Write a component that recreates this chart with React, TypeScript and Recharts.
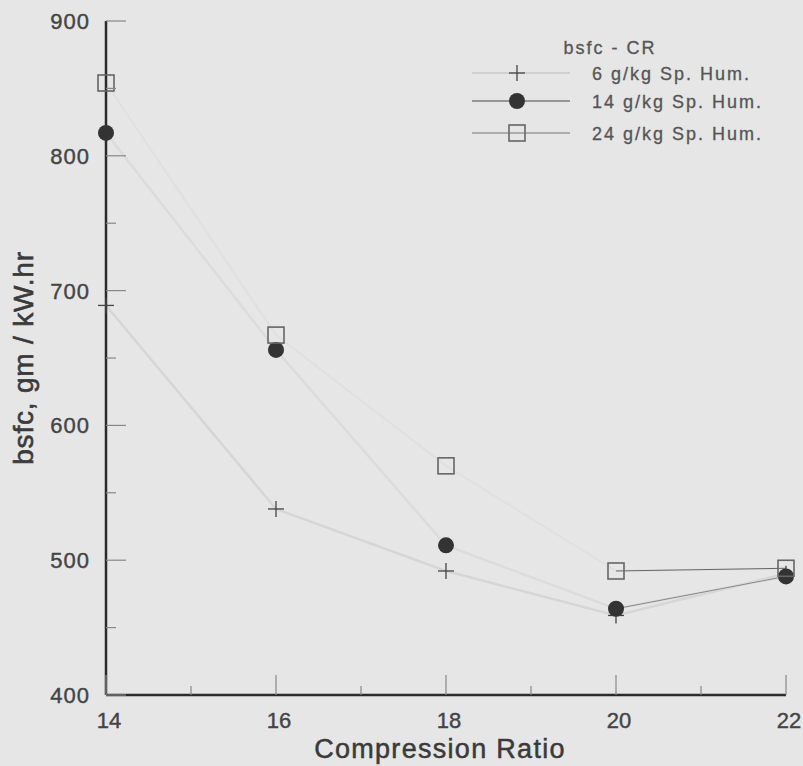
import React from "react"
import { LineChart, Line, XAxis, YAxis, Legend, Label } from "recharts"

// compression ratio (x) and bsfc readings per specific humidity
const compressionRatio = [14, 16, 18, 20, 22]
const bsfcHum6 = [689, 538, 492, 459, 490]
const bsfcHum14 = [817, 656, 511, 464, 488]
const bsfcHum24 = [854, 667, 570, 492, 494]

const xTicks = [14, 15, 16, 17, 18, 19, 20, 21, 22]
const yTicks = [400, 450, 500, 550, 600, 650, 700, 750, 800, 850, 900]

const seriesNames = ["6 g/kg Sp. Hum.", "14 g/kg Sp. Hum.", "24 g/kg Sp. Hum."]

// last segment (20 -> 22) is drawn darker in the original
const data = compressionRatio.map((cr, i) => ({
    cr,
    h6: bsfcHum6[i],
    h14: bsfcHum14[i],
    h24: bsfcHum24[i],
    h14tail: cr >= 20 ? bsfcHum14[i] : null,
    h24tail: cr >= 20 ? bsfcHum24[i] : null,
}))

const FONT = "'Liberation Sans', Arial, sans-serif"
const TEXT = "#444"

const plusMark = (cx: number, cy: number, key?: string) => (
    <g key={key}>
        <line x1={cx - 8} x2={cx + 8} y1={cy} y2={cy} stroke="#444" strokeWidth={1.3} />
        <line x1={cx} x2={cx} y1={cy - 8} y2={cy + 8} stroke="#444" strokeWidth={1.3} />
    </g>
)
const circleMark = (cx: number, cy: number, key?: string) => (
    <circle key={key} cx={cx} cy={cy} r={8} fill="#333" />
)
const squareMark = (cx: number, cy: number, key?: string) => (
    <rect key={key} x={cx - 8} y={cy - 8} width={16} height={16} fill="none" stroke="#666" strokeWidth={1.6} />
)

const YTick = (props: any) => {
    const { x, y, payload } = props
    const major = payload.value % 100 === 0
    return (
        <g>
            <line x1={x} x2={x + (major ? 20 : 10)} y1={y} y2={y} stroke="#888" strokeWidth={1.2} />
            {major && (
                <text x={x - 16} y={y + 8} textAnchor="end" fontSize={22} letterSpacing={1} fill={TEXT} stroke={TEXT} strokeWidth={0.4} fontFamily={FONT}>
                    {payload.value}
                </text>
            )}
        </g>
    )
}

const XTick = (props: any) => {
    const { x, y, payload } = props
    const major = payload.value % 2 === 0
    return (
        <g>
            <line x1={x} x2={x} y1={y} y2={y - (major ? 20 : 9)} stroke="#888" strokeWidth={1.2} />
            {major && (
                <text x={x + 3} y={y + 33} textAnchor="middle" fontSize={22} fill={TEXT} stroke={TEXT} strokeWidth={0.4} fontFamily={FONT}>
                    {payload.value}
                </text>
            )}
        </g>
    )
}

const LegendBox = () => {
    const rows = [
        { y: 43, mark: plusMark, line: "#bbb" },
        { y: 71, mark: circleMark, line: "#444" },
        { y: 103, mark: squareMark, line: "#777" },
    ]
    return (
        <svg width={330} height={120}>
            <text x={150} y={24} textAnchor="middle" fontSize={18} letterSpacing={2} fill="#555" stroke="#555" strokeWidth={0.3} fontFamily={FONT}>
                bsfc - CR
            </text>
            {rows.map((r, i) => (
                <g key={i}>
                    <line x1={12} x2={110} y1={r.y} y2={r.y} stroke={r.line} strokeWidth={1} />
                    {r.mark(57, r.y)}
                    <text x={132} y={r.y + 7} fontSize={18} letterSpacing={2} fill="#555" stroke="#555" strokeWidth={0.3} fontFamily={FONT}>
                        {seriesNames[i]}
                    </text>
                </g>
            ))}
        </svg>
    )
}

export default function App() {
    return (
        <div style={{ position: "absolute", left: 0, top: 0, width: 803, height: 766, background: "#e6e6e6", fontFamily: FONT }}>
            <LineChart width={803} height={766} data={data} margin={{ top: 21, right: 17, bottom: 21, left: 0 }}>
                <XAxis
                    dataKey="cr"
                    type="number"
                    domain={[14, 22]}
                    ticks={xTicks}
                    interval={0}
                    height={50}
                    tickSize={0}
                    tickMargin={0}
                    tickLine={false}
                    tick={<XTick />}
                    axisLine={{ stroke: "#2b2b2b", strokeWidth: 2.5 }}
                >
                    <Label
                        content={(p: any) => {
                            const vb = p.viewBox
                            return (
                                <text x={vb.x + vb.width / 2 - 6} y={vb.y + 63} textAnchor="middle" fontSize={27} letterSpacing={1.3} fill="#3a3a3a" stroke="#3a3a3a" strokeWidth={0.5} fontFamily={FONT}>
                                    Compression Ratio
                                </text>
                            )
                        }}
                    />
                </XAxis>
                <XAxis xAxisId="top" orientation="top" type="number" domain={[14, 22]} height={0} tick={false} tickLine={false} axisLine={{ stroke: "#333", strokeWidth: 2 }} />
                <YAxis
                    type="number"
                    domain={[400, 900]}
                    ticks={yTicks}
                    interval={0}
                    width={106}
                    tickSize={0}
                    tickMargin={0}
                    tickLine={false}
                    tick={<YTick />}
                    axisLine={{ stroke: "#2b2b2b", strokeWidth: 2.5 }}
                >
                    <Label
                        content={(p: any) => {
                            const vb = p.viewBox
                            const cy = vb.y + vb.height / 2
                            return (
                                <text x={33} y={cy} transform={`rotate(-90, 33, ${cy})`} textAnchor="middle" fontSize={28} letterSpacing={0.8} fill="#3a3a3a" stroke="#3a3a3a" strokeWidth={0.6} fontFamily={FONT}>
                                    bsfc, gm / kW.hr
                                </text>
                            )
                        }}
                    />
                </YAxis>
                <YAxis yAxisId="right" orientation="right" type="number" domain={[400, 900]} width={0} tick={false} tickLine={false} axisLine={{ stroke: "#333", strokeWidth: 2 }} />
                <Legend
                    layout="horizontal"
                    verticalAlign="middle"
                    align="center"
                    wrapperStyle={{ position: "absolute", left: 460, top: 30, width: 330, height: 120 }}
                    content={() => <LegendBox />}
                />
                <Line dataKey="h6" name={seriesNames[0]} stroke="#d6d6d6" strokeWidth={2.5} isAnimationActive={false} legendType="none"
                    dot={(p: any) => plusMark(p.cx, p.cy, `p${p.index}`)} />
                <Line dataKey="h14" name={seriesNames[1]} stroke="#dcdcdc" strokeWidth={2.5} isAnimationActive={false} legendType="none"
                    dot={(p: any) => circleMark(p.cx, p.cy, `c${p.index}`)} />
                <Line dataKey="h24" name={seriesNames[2]} stroke="#e0e0e0" strokeWidth={2} isAnimationActive={false} legendType="none"
                    dot={(p: any) => squareMark(p.cx, p.cy, `s${p.index}`)} />
                <Line dataKey="h14tail" stroke="#888" strokeWidth={1} dot={false} isAnimationActive={false} legendType="none" connectNulls={false} />
                <Line dataKey="h24tail" stroke="#666" strokeWidth={1} dot={false} isAnimationActive={false} legendType="none" connectNulls={false} />
            </LineChart>
        </div>
    )
}
